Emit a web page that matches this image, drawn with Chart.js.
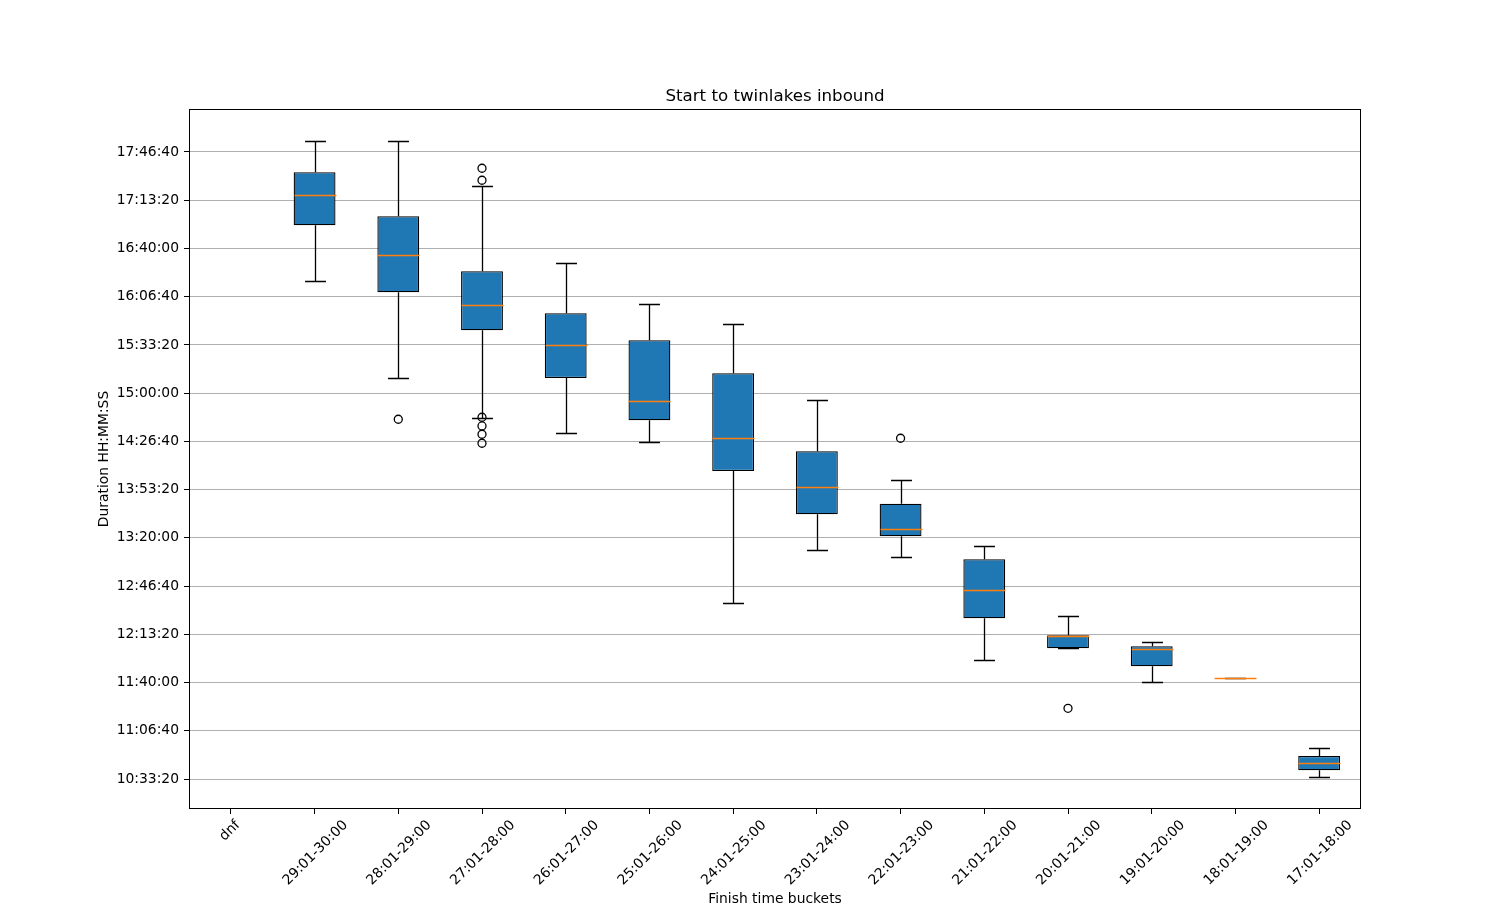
<!DOCTYPE html>
<html>
<head>
<meta charset="utf-8">
<script src="https://cdn.jsdelivr.net/npm/chart.js@4.4.1/dist/chart.umd.min.js"></script>
<style>
    body { margin: 0; background: #ffffff; }
</style>
</head>
<body>
<canvas id="boxChart" width="1512" height="909"></canvas>
<script>
// durations in seconds
var labels = ['dnf', '29:01-30:00', '28:01-29:00', '27:01-28:00', '26:01-27:00', '25:01-26:00', '24:01-25:00',
    '23:01-24:00', '22:01-23:00', '21:01-22:00', '20:01-21:00', '19:01-20:00', '18:01-19:00', '17:01-18:00'];

var mins    = [null, 58640, 54617, 52971, 52336, 51963, 45299, 47484, 47194, 42935, 43420, 42023, 42176, 38070];
var q1s     = [null, 60962, 58183, 56607, 54629, 52875, 50773, 48977, 48065, 44664, 43420, 42674, 42176, 38361];
var medians = [null, 62206, 59718, 57644, 56011, 53663, 52129, 50097, 48355, 45825, 43930, 43379, 42176, 38651];
var q3s     = [null, 63160, 61335, 59054, 57313, 56193, 54824, 51590, 49417, 47111, 43959, 43503, 42176, 38954];
var maxs    = [null, 64446, 64446, 62579, 59386, 57698, 56856, 53705, 50387, 47663, 44760, 43669, 42176, 39286];

var outliers = [[], [], [52917], [63326, 62828, 53000, 52639, 52295, 51922], [], [], [], [],
    [52129], [], [40932], [], [], []];

// 10:33:20 ... 17:46:40
var yTicks = [38000, 40000, 42000, 44000, 46000, 48000, 50000, 52000, 54000, 56000, 58000, 60000, 62000, 64000];

function formatDuration(v) {
    var h = Math.floor(v / 3600);
    var m = Math.floor((v % 3600) / 60);
    var s = Math.round(v % 60);
    return h + ':' + String(m).padStart(2, '0') + ':' + String(s).padStart(2, '0');
}

var boxes = [];
for (var i = 0; i < labels.length; i++) {
    boxes.push(q1s[i] == null ? null : [q1s[i], q3s[i]]);
}

var fliers = [];
outliers.forEach((list, i) => {
    list.forEach(v => fliers.push({ x: labels[i], y: v }));
});

// whiskers, caps and medians, drawn on the chart's scales
var boxplotParts = {
    id: 'boxplotParts',
    afterLayout(chart) {
        // the dnf label axis has no height of its own, let its labels show
        chart.scales.xdnf.bottom = chart.height;
    },
    afterDatasetsDraw(chart) {
        var ctx = chart.ctx;
        var xScale = chart.scales.x;
        var yScale = chart.scales.y;
        var meta = chart.getDatasetMeta(1);
        var area = chart.chartArea;

        ctx.save();
        ctx.lineWidth = 1.3;
        for (var i = 0; i < labels.length; i++) {
            if (mins[i] == null) continue;
            var x = Math.round(xScale.getPixelForValue(i)) + 0.5;
            var w = meta.data[i].width;
            var cap = w / 4;
            var yMin = Math.round(yScale.getPixelForValue(mins[i])) + 0.5;
            var yQ1 = yScale.getPixelForValue(q1s[i]);
            var yQ3 = yScale.getPixelForValue(q3s[i]);
            var yMax = Math.round(yScale.getPixelForValue(maxs[i])) + 0.5;
            var yMed = Math.round(yScale.getPixelForValue(medians[i])) + 0.5;

            ctx.strokeStyle = '#000000';
            ctx.beginPath();
            ctx.moveTo(x, yQ1);
            ctx.lineTo(x, yMin);
            ctx.moveTo(x, yQ3);
            ctx.lineTo(x, yMax);
            ctx.moveTo(x - cap, yMin);
            ctx.lineTo(x + cap, yMin);
            ctx.moveTo(x - cap, yMax);
            ctx.lineTo(x + cap, yMax);
            ctx.stroke();

            ctx.strokeStyle = '#ff7f0e';
            ctx.beginPath();
            ctx.moveTo(x - w / 2, yMed);
            ctx.lineTo(x + w / 2, yMed);
            ctx.stroke();
        }

        // axes frame
        ctx.lineWidth = 1;
        ctx.strokeStyle = '#000000';
        ctx.strokeRect(area.left + 0.5, area.top + 0.5, area.right - area.left - 1, area.bottom - area.top - 1);
        ctx.restore();
    }
};

Chart.defaults.font.family = 'DejaVu Sans';
Chart.defaults.font.size = 13.89;
Chart.defaults.color = '#000000';

var ctx = document.getElementById('boxChart').getContext('2d');
var boxChart = new Chart(ctx, {
    type: 'bar',
    data: {
        labels: labels,
        datasets: [{
            type: 'line',
            label: 'Outliers',
            data: fliers,
            showLine: false,
            pointRadius: 4,
            pointHoverRadius: 4,
            pointBackgroundColor: 'rgba(0,0,0,0)',
            pointBorderColor: '#000000',
            pointBorderWidth: 1.3
        },
        {
            label: 'Boxes',
            data: boxes,
            backgroundColor: '#1f77b4',
            borderColor: '#000000',
            borderWidth: 1.3,
            borderSkipped: false,
            barPercentage: 0.5,
            categoryPercentage: 1.0
        }]
    },
    options: {
        responsive: false,
        animation: false,
        layout: {
            padding: { left: 0, top: 0, right: 151, bottom: 0 }
        },
        plugins: {
            legend: { display: false },
            tooltip: { enabled: false },
            title: { display: false }
        },
        scales: {
            // carries the chart title, centred over the plot area
            xtop: {
                type: 'category',
                position: 'top',
                grid: { display: false },
                border: { display: false },
                ticks: { display: false },
                title: {
                    display: true,
                    text: 'Start to twinlakes inbound',
                    font: { size: 16.67 },
                    padding: { top: 87, bottom: 0 }
                },
                afterFit: scale => { scale.height = 109; }
            },
            x: {
                type: 'category',
                position: 'bottom',
                weight: 1,
                offset: true,
                grid: {
                    offset: false,
                    drawOnChartArea: false,
                    tickLength: 5,
                    tickColor: '#000000'
                },
                border: { display: false },
                ticks: {
                    autoSkip: false,
                    minRotation: 45,
                    maxRotation: 45,
                    padding: 3,
                    labelOffset: 31,
                    callback: (val, i) => i === 0 ? '' : labels[i]
                },
                title: {
                    display: true,
                    text: 'Finish time buckets',
                    padding: { top: 0, bottom: 1 }
                },
                afterFit: scale => { scale.height = 100; }
            },
            xdnf: {
                type: 'category',
                position: 'bottom',
                weight: 0,
                offset: true,
                grid: {
                    offset: false,
                    drawOnChartArea: false,
                    tickLength: 5,
                    tickColor: 'rgba(0,0,0,0)'
                },
                border: { display: false },
                ticks: {
                    autoSkip: false,
                    minRotation: 45,
                    maxRotation: 45,
                    padding: 3,
                    labelOffset: 7,
                    callback: (val, i) => i === 0 ? labels[0] : ''
                },
                afterFit: scale => { scale.height = 0; }
            },
            y: {
                type: 'linear',
                min: 36756,
                max: 65783,
                beginAtZero: false,
                grid: {
                    color: '#b0b0b0',
                    tickColor: '#000000',
                    tickLength: 5
                },
                border: { display: false },
                ticks: {
                    padding: 5,
                    callback: v => formatDuration(v)
                },
                afterBuildTicks: scale => {
                    scale.ticks = yTicks.map(v => ({ value: v }));
                },
                title: {
                    display: true,
                    text: 'Duration HH:MM:SS',
                    padding: { top: 96, bottom: 0 }
                },
                afterFit: scale => { scale.width = 189; }
            }
        }
    },
    plugins: [boxplotParts]
});
</script>
</body>
</html>
